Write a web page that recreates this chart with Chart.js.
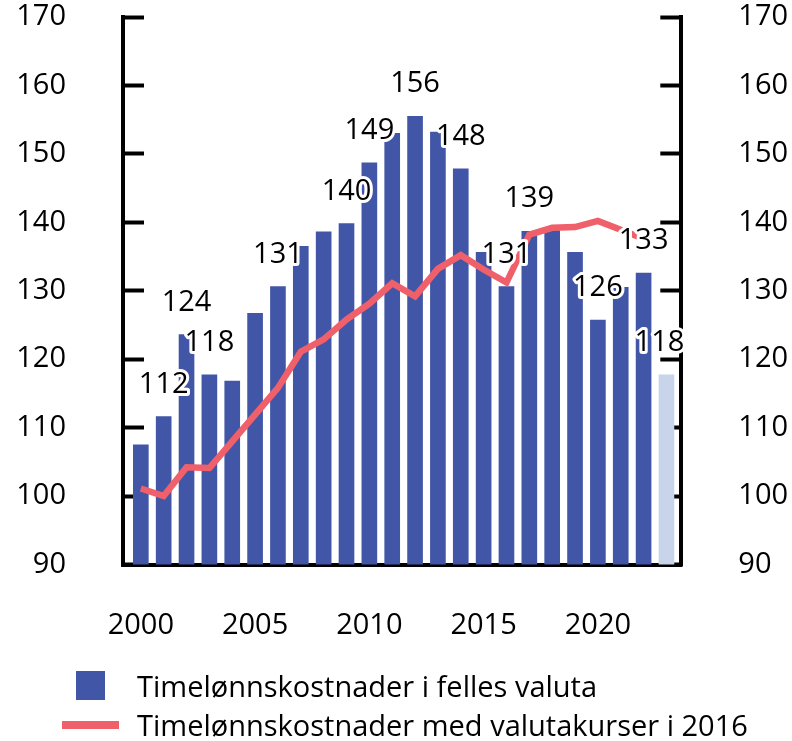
<!DOCTYPE html>
<html>
<head>
<meta charset="utf-8">
<script src="https://cdn.jsdelivr.net/npm/chart.js@4.4.1/dist/chart.umd.min.js"></script>
<style>
  html, body { margin: 0; padding: 0; background: #fff; }
  canvas { display: block; }
</style>
</head>
<body>
<canvas id="chart" width="792" height="741"></canvas>
<script>
// år 2000-2023, siste søyle er anslag
const years = [2000, 2001, 2002, 2003, 2004, 2005, 2006, 2007, 2008, 2009, 2010, 2011,
               2012, 2013, 2014, 2015, 2016, 2017, 2018, 2019, 2020, 2021, 2022, 2023];
// timelønnskostnader i felles valuta (søyler)
const felles = [107.5, 111.6, 123.6, 117.7, 116.8, 126.7, 130.6, 136.5, 138.6, 139.8, 148.7, 153.0,
                155.5, 153.2, 147.8, 135.6, 130.6, 138.7, 138.8, 135.6, 125.7, 130.5, 132.6, 117.7];
// timelønnskostnader med valutakurser i 2016 (linje)
const kurs2016 = [101.1, 100.0, 104.2, 104.1, 108.0, 111.9, 115.8, 121.1, 122.9, 125.8, 128.1, 131.1,
                  129.2, 133.2, 135.2, 133.1, 131.2, 138.2, 139.2, 139.3, 140.2, 138.9, 137.6, null];
// verdietiketter som vises over enkelte søyler
const barLabels = ['', '112', '124', '118', '', '', '131', '', '', '140', '149', '',
                   '156', '', '148', '', '131', '139', '', '', '126', '', '133', '118'];
const xTicks = [2000, 2005, 2010, 2015, 2020];
const yTicks = [90, 100, 110, 120, 130, 140, 150, 160, 170];
const legendLabels = ['Timelønnskostnader i felles valuta',
                      'Timelønnskostnader med valutakurser i 2016'];

const BLUE = '#4256A7';
const LIGHT = '#C8D4EA';
const RED = '#F0606A';
const FONT = '"Open Sans", "Noto Sans", sans-serif';
const SIZE = 29;

// etiketter med hvit kant over søylene
const labelPlugin = {
  id: 'barValues',
  afterDatasetsDraw(chart) {
    const { ctx, chartArea } = chart;
    const meta = chart.getDatasetMeta(0);
    ctx.save();
    ctx.font = SIZE + 'px ' + FONT;
    ctx.textAlign = 'center';
    ctx.textBaseline = 'alphabetic';
    ctx.lineJoin = 'round';
    meta.data.forEach((bar, i) => {
      const txt = barLabels[i];
      if (!txt) return;
      const w = ctx.measureText(txt).width;
      const x = Math.min(bar.x, chartArea.right + 3 - w / 2);
      const y = bar.y - 24;
      ctx.strokeStyle = '#fff';
      ctx.lineWidth = 6;
      ctx.strokeText(txt, x, y);
      ctx.fillStyle = '#000';
      ctx.fillText(txt, x, y);
    });
    ctx.restore();
  }
};

// forklaring nederst
const legendPlugin = {
  id: 'bottomLegend',
  afterDraw(chart) {
    const ctx = chart.ctx;
    ctx.save();
    ctx.fillStyle = BLUE;
    ctx.fillRect(76, 671, 29, 29);
    ctx.strokeStyle = RED;
    ctx.lineWidth = 8;
    ctx.beginPath();
    ctx.moveTo(62, 725);
    ctx.lineTo(119, 725);
    ctx.stroke();
    ctx.fillStyle = '#000';
    ctx.font = SIZE + 'px ' + FONT;
    ctx.textAlign = 'left';
    ctx.textBaseline = 'alphabetic';
    ctx.fillText(legendLabels[0], 137, 697);
    ctx.fillText(legendLabels[1], 137, 736);
    ctx.restore();
  }
};

function yAxis(position, width) {
  return {
    position: position,
    min: 90,
    max: 170,
    afterBuildTicks: s => { s.ticks = yTicks.map(v => ({ value: v })); },
    afterFit: s => {
      s.width = width;
      s.paddingTop = 0;
      s.paddingBottom = 0;
    },
    grid: { drawOnChartArea: false, drawTicks: true, tickLength: -21, tickWidth: 4, tickColor: '#000' },
    border: { display: true, width: 4, color: '#000' },
    ticks: {
      color: '#000',
      padding: 78,
      font: { size: SIZE, family: FONT },
      callback: v => String(v)
    }
  };
}

function draw() {
  new Chart(document.getElementById('chart'), {
    type: 'bar',
    data: {
      datasets: [
        {
          type: 'bar',
          label: legendLabels[0],
          data: years.map((x, i) => ({ x, y: felles[i] })),
          backgroundColor: years.map((x, i) => i === years.length - 1 ? LIGHT : BLUE),
          barThickness: 15,
          yAxisID: 'y',
          order: 1
        },
        {
          type: 'line',
          label: legendLabels[1],
          data: years.map((x, i) => ({ x, y: kurs2016[i] })),
          borderColor: RED,
          borderWidth: 6.5,
          pointRadius: 0,
          fill: false,
          yAxisID: 'y',
          order: 0
        }
      ]
    },
    options: {
      responsive: false,
      animation: false,
      devicePixelRatio: 1,
      layout: { padding: { top: 17, left: 0, right: 0, bottom: 0 } },
      plugins: {
        legend: { display: false },
        tooltip: { enabled: false }
      },
      scales: {
        x: {
          type: 'linear',
          offset: false,
          bounds: 'data',
          min: 1999.22,
          max: 2023.65,
          afterBuildTicks: s => { s.ticks = xTicks.map(v => ({ value: v })); },
          afterFit: s => {
            s.height = 741 - 564.5;
            s.paddingLeft = 0;
            s.paddingRight = 0;
          },
          grid: { display: false, offset: false },
          border: { display: true, width: 4, color: '#000' },
          ticks: {
            color: '#000',
            padding: 36,
            maxRotation: 0,
            font: { size: SIZE, family: FONT },
            callback: v => String(v)
          }
        },
        y: yAxis('left', 123),
        y2: yAxis('right', 792 - 681.3)
      }
    },
    plugins: [labelPlugin, legendPlugin]
  });
}

if (document.fonts && document.fonts.load) {
  document.fonts.load(SIZE + 'px "Open Sans"').then(draw, draw);
} else {
  draw();
}
</script>
</body>
</html>
